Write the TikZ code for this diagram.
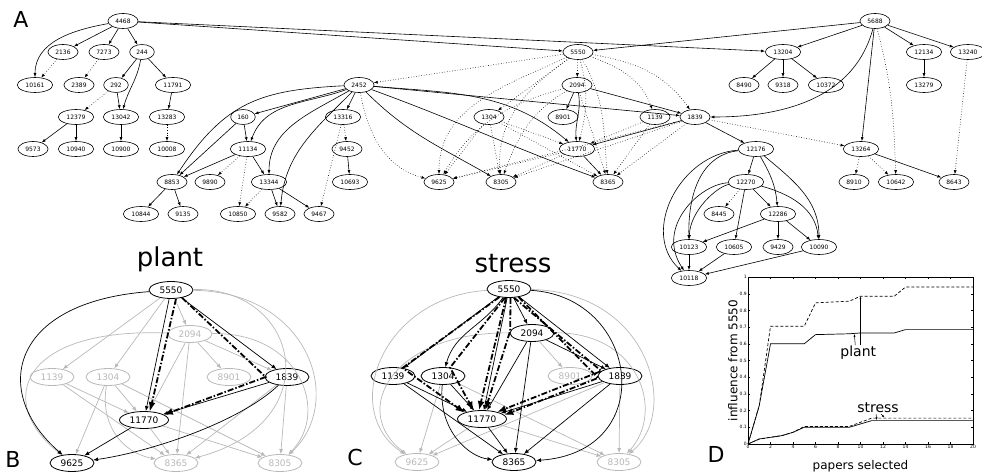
\documentclass[tikz,border=0pt]{standalone}
\usepackage{fontspec}
\setmainfont{DejaVu Sans}
\usetikzlibrary{shapes.geometric, arrows.meta, positioning, calc}
\definecolor{offgray}{gray}{0.72}

\begin{document}
\begin{tikzpicture}[x=1pt, y=1pt,
    pa/.style={ellipse, draw, line width=0.6pt, font=\fontsize{6}{6}\selectfont, inner xsep=3pt, inner ysep=0pt, minimum height=15pt},
    pb/.style={ellipse, draw, line width=0.8pt, font=\fontsize{9}{9}\selectfont, inner xsep=3pt, inner ysep=0pt, minimum height=17pt, minimum width=44pt},
    pg/.style={pb, draw=offgray, text=offgray},
    ae/.style={-{Latex[length=4pt,width=3pt]}, line width=0.6pt},
    ad/.style={ae, dotted},
    be/.style={-{Latex[length=5pt,width=4pt]}, line width=0.7pt},
    ge/.style={be, draw=offgray},
    route/.style={-{Latex[length=9pt,width=7pt]}, line width=1.8pt, dash pattern=on 6pt off 2pt on 1.5pt off 2pt},
    panel/.style={font=\fontsize{22}{22}\selectfont, anchor=base},
    title/.style={font=\fontsize{26}{26}\selectfont, anchor=base},
    tick/.style={font=\fontsize{4.5}{4.5}\selectfont, inner sep=1pt},
    axislabel/.style={font=\fontsize{12}{12}\selectfont},
    curvelabel/.style={font=\fontsize{14}{14}\selectfont, inner sep=1pt},
    note/.style={-{Latex[length=3pt,width=2pt]}, line width=0.5pt}]
\useasboundingbox (0,0) rectangle (982,472);

% panel letters
\node[panel] (labA) at (21,444) {A};
\node[panel] (labB) at (13,5) {B};
\node[panel] (labC) at (355,7) {C};
\node[panel] (labD) at (716,10) {D};

% panel A: citation graph
\foreach \nm/\x/\y in {4468/123/451, 2136/63/420, 7273/104/420, 244/142/420, 10161/35/387, 2389/79/387, 292/116/387, 11791/173/387,
    12379/76/355, 13042/121/355, 13283/167/355, 9573/33/323, 10940/76/323, 10900/121/323, 10008/167/323,
    2452/359/387, 160/243/355, 13316/343/355, 11134/248/323, 9452/347/323, 8853/172/290, 9890/210/290, 13344/269/290, 10693/350/290,
    10844/141/258, 9135/183/258, 10850/238/258, 9582/280/258, 9467/319/258,
    5550/578/420, 2094/577/387, 1304/489/355, 8901/563/355, 11770/577/323, 9625/439/290, 8305/501/290, 8365/608/290,
    5688/875/451, 13204/783/420, 12134/924/420, 13240/968/420, 8490/744/387, 9318/783/387, 10372/826/387, 13279/924/387,
    1139/655/355, 1839/695/355, 12176/756/323, 13264/861/323, 8910/854/290, 10642/896/290, 8643/954/290,
    12270/746/290, 8445/719/258, 12286/778/258, 10123/689/225, 10605/734/225, 9429/778/225, 10090/819/225, 10118/689/194}
  \node[pa] (a\nm) at (\x,\y) {\nm};

\foreach \src/\dst in {4468/2136, 4468/7273, 4468/244, 244/292, 244/11791, 292/13042, 11791/13283, 12379/9573, 12379/10940, 13042/10900,
    4468/5550, 4468/13204, 5688/5550, 5688/13204, 5688/12134, 5688/13240, 5688/13264, 13204/8490, 13204/9318, 13204/10372, 12134/13279,
    2452/160, 2452/13316, 2452/1839, 160/11134, 160/8853, 11134/8853, 11134/13344, 8853/10844, 8853/9135, 13344/9582, 13344/9467, 9452/10693,
    2094/8901, 2094/1839, 1839/11770, 1839/12176, 11770/8365, 13264/8643, 12176/12270, 12270/12286, 12270/10605,
    12286/10123, 12286/9429, 12286/10090, 10123/10118, 10605/10118, 10090/10118}
  \draw[ae] (a\src) -- (a\dst);
\foreach \src/\dst/\oa/\ia in {4468/10161/190/90, 244/13042/-100/75, 2452/11134/200/70, 2452/13344/210/90,
    2452/9582/225/85, 2452/8305/-45/150, 2452/8365/-20/160, 2452/11770/-5/140, 2094/11770/-80/95, 5688/1839/-105/0,
    12176/12286/-60/95, 12176/10090/-40/90, 12270/10090/-15/95}
  \draw[ae] (a\src) to[out=\oa, in=\ia] (a\dst);
\draw[ae] (a2452) .. controls (260,382) and (225,370) .. (a8853);
\draw[ae] (a12176) .. controls (705,318) and (688,285) .. (a10123);
\draw[ae] (a12270) .. controls (718,286) and (690,262) .. (a10123);
\draw[ae] (a12176) .. controls (680,318) and (640,240) .. (a10118);
\draw[ae] (a12270) .. controls (700,288) and (655,245) .. (a10118);
\foreach \src/\dst in {2136/10161, 7273/2389, 292/12379, 13283/10008, 11134/9890, 11134/10850, 13344/10850, 13316/9452, 13316/9467,
    5550/2452, 5550/2094, 5550/1304, 1304/11770, 1304/9625, 1304/8305, 1304/8365, 1139/11770, 1139/8365, 1839/9625, 1839/8305, 1839/8365,
    1839/13264, 11770/9625, 11770/8305, 2094/8365, 12270/8445, 13264/8910, 13264/10642, 13240/8643}
  \draw[ad] (a\src) -- (a\dst);
\foreach \src/\dst/\oa/\ia in {5688/10642/-75/92, 2452/9625/-80/165, 5550/9625/205/90, 5550/8305/215/95, 5550/8365/-60/95,
    5550/11770/-75/75, 5550/1139/-20/110, 5550/1839/-10/125, 2094/9625/195/60, 2094/8305/210/70}
  \draw[ad] (a\src) to[out=\oa, in=\ia] (a\dst);

% panel B: plant
\node[title] (tplant) at (170,206) {plant};
\foreach \nm/\x/\y in {5550/171/182, 1839/287/95, 11770/144/52, 9625/72/9}
  \node[pb] (b\nm) at (\x,\y) {\nm};
\foreach \nm/\x/\y in {2094/190/138, 1139/52/95, 1304/108/95, 8901/229/95, 8365/176/9, 8305/280/9}
  \node[pg] (b\nm) at (\x,\y) {\nm};
\foreach \src/\dst in {5550/2094, 5550/1139, 5550/1304, 2094/8901, 2094/1839, 2094/11770, 2094/8365, 1139/11770, 1139/8365,
    1304/9625, 1304/11770, 1304/8305, 1839/8365, 1839/8305, 11770/8365, 11770/8305}
  \draw[ge] (b\src) -- (b\dst);
\draw[ge] (b5550) .. controls (300,185) and (330,50) .. (b8365);
\draw[ge] (b5550) .. controls (310,180) and (345,70) .. (b8305);
\draw[ge] (b2094) .. controls (300,140) and (330,60) .. (b8305);
\draw[ge] (b2094) .. controls (20,145) and (-5,70) .. (b9625);
\draw[ge] (b1304) .. controls (100,50) and (120,20) .. (b8365);
\foreach \src/\dst in {5550/11770, 5550/1839, 1839/11770, 11770/9625}
  \draw[be] (b\src) -- (b\dst);
\draw[be] (b5550) .. controls (10,170) and (-10,80) .. (b9625);
\draw[be] (b1839) .. controls (240,50) and (150,20) .. (b9625);
\draw[route] ([xshift=5pt]b5550.south) -- ([xshift=6pt]b11770.north);
\draw[route] (b5550.-35) -- ([xshift=1pt]b1839.west) -- (b11770.15);

% panel C: stress
\node[title] (tstress) at (513,200) {stress};
\foreach \nm/\x/\y in {5550/509/183, 2094/532/139, 1139/393/96, 1304/443/96, 1839/620/96, 11770/482/53, 8365/514/10}
  \node[pb] (c\nm) at (\x,\y) {\nm};
\foreach \nm/\x/\y in {8901/570/96, 9625/417/10, 8305/619/10}
  \node[pg] (c\nm) at (\x,\y) {\nm};
\foreach \src/\dst in {2094/8901, 1304/9625, 1304/8305, 1839/9625, 1839/8305, 11770/9625, 11770/8305}
  \draw[ge] (c\src) -- (c\dst);
\draw[ge] (c5550) .. controls (380,175) and (340,60) .. (c9625);
\draw[ge] (c2094) .. controls (390,140) and (350,60) .. (c9625);
\draw[ge] (c5550) .. controls (650,180) and (680,60) .. (c8305);
\draw[ge] (c2094) .. controls (640,140) and (665,60) .. (c8305);
\foreach \src/\dst in {5550/1139, 5550/2094, 5550/11770, 5550/1839, 2094/1839, 2094/11770, 2094/8365,
    1139/11770, 1139/8365, 1304/11770, 1839/11770, 1839/8365, 11770/8365}
  \draw[be] (c\src) -- (c\dst);
\draw[be] (c5550) to[out=-125, in=75] (c1304);
\draw[be] (c5550) .. controls (640,175) and (660,20) .. (c8365);
\draw[be] (c1304) .. controls (438,40) and (470,15) .. (c8365);
\draw[route] (c5550.-140) -- (c1139.40) -- (c11770.160);
\draw[route] (c5550.-115) -- (c1304.50) -- (c11770.135);
\draw[route] ([xshift=-3pt]c5550.south) -- ([xshift=-3pt]c11770.north);
\draw[route] (c5550.-80) -- (c2094.175) -- (c11770.70);
\draw[route] (c5550.-60) -- (c2094.20) -- (c1839.165) -- (c11770.25);
\draw[route] (c5550.-40) -- (c1839.185) -- (c11770.10);

% panel D: influence from 5550
\begin{scope}[shift={(748,28)}, x=11.25pt, y=167pt]
  \draw[line width=0.6pt] (0,0) rectangle (20,1);
  \foreach \k in {0,2,...,20} {
    \draw[line width=0.4pt] (\k,0) -- ++(0,2pt) (\k,1) -- ++(0,-2pt);
    \node[tick, below] at (\k,0) {\k};
  }
  \foreach \v/\l in {0/0, 0.1/0.1, 0.2/0.2, 0.3/0.3, 0.4/0.4, 0.5/0.5, 0.6/0.6, 0.7/0.7, 0.8/0.8, 0.9/0.9, 1/1} {
    \draw[line width=0.4pt] (0,\v) -- ++(2pt,0) (20,\v) -- ++(-2pt,0);
    \node[tick, left] at (0,\v) {\l};
  }
  \draw[line width=0.7pt, dash pattern=on 3pt off 2pt] plot coordinates {(0,0) (1,0.23) (2,0.705) (5,0.705) (6,0.845) (9,0.855) (10,0.885) (13,0.885) (14,0.94) (20,0.94)};
  \draw[line width=0.7pt] plot coordinates {(0,0) (1,0.23) (2,0.6) (5,0.6) (6,0.655) (9,0.66) (10,0.665) (13,0.665) (14,0.685) (20,0.685)};
  \draw[line width=0.7pt, dash pattern=on 3pt off 2pt] plot coordinates {(0,0) (1,0.03) (2,0.04) (3,0.05) (4,0.07) (5,0.105) (9,0.105) (11,0.155) (20,0.155)};
  \draw[line width=0.7pt] plot coordinates {(0,0) (1,0.03) (2,0.04) (3,0.05) (4,0.07) (5,0.1) (9,0.1) (11,0.14) (20,0.14)};
  \node[axislabel, rotate=90] (ylab) at (-1.35,0.5) {influence from 5550};
  \node[axislabel] (xlab) at (10,-0.13) {papers selected};
  \node[curvelabel] (dplant) at (9.8,0.545) {plant};
  \coordinate (pd) at (10,0.885);
  \coordinate (ps) at (9.45,0.66);
  \draw[note] (dplant.north -| pd) -- (pd);
  \draw[note] ([xshift=-3pt]dplant.north) -- (ps);
  \node[curvelabel] (dstress) at (11.56,0.216) {stress};
  \coordinate (ss) at (11.45,0.142);
  \coordinate (sd) at (12.15,0.157);
  \draw[note] ([xshift=-2pt]dstress.south) -- (ss);
  \draw[note] ([xshift=3pt]dstress.south) -- (sd);
\end{scope}
\end{tikzpicture}
\end{document}
